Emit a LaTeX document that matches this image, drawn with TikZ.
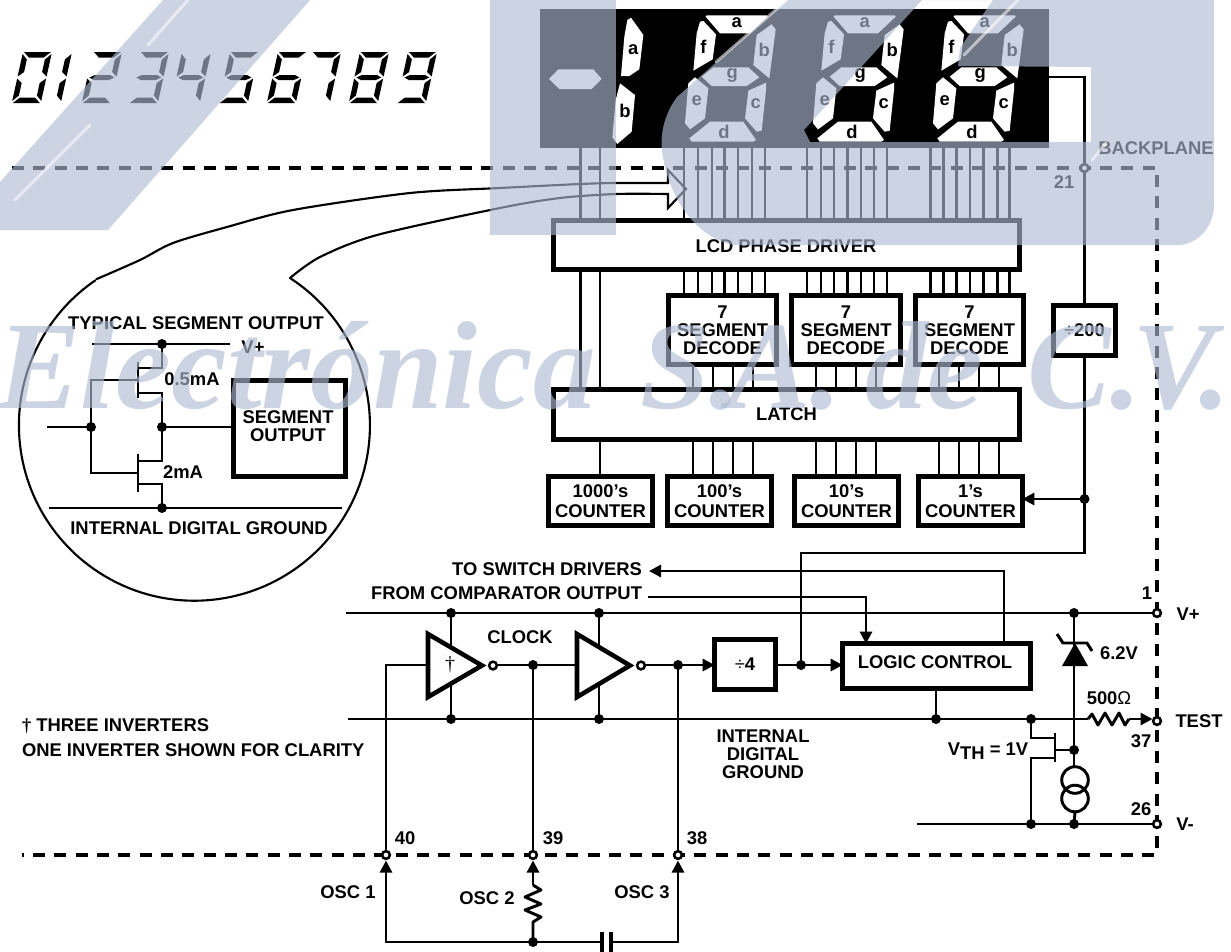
\documentclass[tikz,border=0pt]{standalone}
\usepackage{fontspec}
\setmainfont{Liberation Sans}
\newfontfamily\wmfont{Liberation Serif}
\usetikzlibrary{arrows.meta,calc}
\definecolor{wmblue}{RGB}{175,186,211}
\tikzset{
  wire/.style={line width=2.2pt},
  thinw/.style={line width=1.6pt,line cap=round},
  dashw/.style={line width=2.3pt,dash pattern=on 9pt off 7pt},
  arroww/.style={wire,-{Triangle[length=9pt,width=9pt]}},
  lbl/.style={font=\bfseries\fontsize{13.8}{13.5}\selectfont,align=center,inner sep=0pt,outer sep=0pt},
  blk/.style={draw,line width=4pt,fill=white,lbl,outer sep=0pt,inner sep=0pt},
  dot/.style={circle,fill=black,minimum size=7.5pt,inner sep=0pt,outer sep=0pt},
  pin/.style={circle,draw,fill=white,line width=1.9pt,minimum size=5.8pt,inner sep=0pt,outer sep=0pt},
  seglbl/.style={font=\bfseries\fontsize{13.8}{14}\selectfont,inner sep=0pt},
  wmark/.style={font=\wmfont\bfseries\itshape\fontsize{94}{94}\selectfont,text=wmblue,text opacity=.63,anchor=base west,inner sep=0pt}
}
\newcommand\pxbox[6]{%
  \pgfmathsetmacro\bw{(#4-#2-5.3)*.75}\pgfmathsetmacro\bh{(#5-#3-5.3)*.75}%
  \node[blk,minimum width=\bw pt,minimum height=\bh pt] (#1) at ({(#2+#4)/2},{(#3+#5)/2}) {#6};}
% small seven-segment digits
\newcommand\lcda{\fill (1,0)--(28,0)--(22,5.5)--(7,5.5)--cycle;}
\newcommand\lcdf{\fill (0,2)--(5.5,7.5)--(5.5,20)--(0,24.5)--cycle;}
\newcommand\lcdb{\fill (29,2)--(29,24.5)--(23.5,20)--(23.5,7.5)--cycle;}
\newcommand\lcdg{\fill (2,25.5)--(7,23)--(22,23)--(27,25.5)--(22,28)--(7,28)--cycle;}
\newcommand\lcde{\fill (0,26.5)--(5.5,31)--(5.5,43.5)--(0,49)--cycle;}
\newcommand\lcdc{\fill (29,26.5)--(29,49)--(23.5,43.5)--(23.5,31)--cycle;}
\newcommand\lcdd{\fill (7,45.5)--(22,45.5)--(28,51)--(1,51)--cycle;}
% one large display digit, in units of a third of a pixel
\newcommand\bigdigit[1]{%
\begin{scope}[shift={(520+#1,0)},x=0.25pt,y=-0.25pt,fill=white]
\fill (560,46)--(740,46)--(743,50)--(690,100)--(600,100)--(557,50)--cycle;
\fill (540,65)--(550,63)--(588,103)--(578,178)--(520,212)--(530,100)--cycle;
\fill (755,73)--(767,88)--(748,235)--(700,195)--(710,105)--cycle;
\fill (545,230)--(580,202)--(685,202)--(718,232)--(680,258)--(575,258)--cycle;
\fill (525,232)--(565,265)--(555,355)--(510,388)--(495,370)--(505,250)--cycle;
\fill (738,248)--(738,270)--(725,392)--(710,395)--(675,355)--(685,272)--cycle;
\fill (570,365)--(670,365)--(708,420)--(700,425)--(515,425)--(508,415)--cycle;
\node[seglbl] (a#1) at (650,68) {a};
\node[seglbl] (f#1) at (550,140) {f};
\node[seglbl] (b#1) at (733,150) {b};
\node[seglbl] (g#1) at (637,225) {g};
\node[seglbl] (e#1) at (530,303) {e};
\node[seglbl] (c#1) at (707,312) {c};
\node[seglbl] (d#1) at (612,397) {d};
\end{scope}}
\begin{document}
\begin{tikzpicture}[x=0.75pt,y=-0.75pt]
\useasboundingbox (0,0) rectangle (1231,951);
\clip (0,0) rectangle (1231,951);
\fill[white] (0,0) rectangle (1231,951);

% digit legend
\foreach \x/\segs in {23/{a,b,c,d,e,f},43/{b,c},93/{a,b,g,e,d},140/{a,b,g,c,d},182/{f,g,b,c},230/{a,f,g,c,d},278/{a,f,g,e,c,d},312/{a,b,c},360/{a,b,c,d,e,f,g},408/{a,f,b,g,c,d}}{
  \begin{scope}[shift={(\x,52)},xslant=0.22]
    \foreach \s in \segs {\csname lcd\s\endcsname}
  \end{scope}
}

% display
\node[fill=black,minimum width=509*.75pt,minimum height=139*.75pt,inner sep=0pt,outer sep=0pt] (disp) at (794.5,78.5) {};
\begin{scope}[shift={(520,0)},x=0.25pt,y=-0.25pt]
\fill[white] (87,237)--(115,208)--(220,208)--(245,237)--(215,267)--(118,267)--cycle;
\fill[white] (322,60)--(333,53)--(370,105)--(358,208)--(328,228)--(303,228)--(313,110)--cycle;
\fill[white] (300,250)--(345,285)--(335,395)--(292,432)--(277,412)--(287,300)--cycle;
\node[seglbl] (a0) at (340,150) {a};
\node[seglbl] (b0) at (315,333) {b};
\end{scope}
\bigdigit{0}
\bigdigit{128}
\bigdigit{248}

% main blocks
\pxbox{lcd}{551}{218}{1022}{272}{}
\node[lbl] (lcdt) at (786,246) {LCD PHASE DRIVER};
\pxbox{dec1}{666}{293}{779}{367}{7\\SEGMENT\\DECODE}
\pxbox{dec2}{789}{293}{903}{367}{7\\SEGMENT\\DECODE}
\pxbox{dec3}{913}{293}{1026}{367}{7\\SEGMENT\\DECODE}
\pxbox{latch}{551}{387}{1022}{442}{LATCH}
\pxbox{c1000}{546}{474}{655}{528}{1000’s\\[1.5pt]COUNTER}
\pxbox{c100}{665}{474}{774}{528}{100’s\\[1.5pt]COUNTER}
\pxbox{c10}{792}{474}{901}{528}{10’s\\[1.5pt]COUNTER}
\pxbox{c1}{916}{474}{1025}{528}{1’s\\[1.5pt]COUNTER}
\pxbox{div200}{1051}{303}{1118}{358}{{\mdseries ÷}200}
\pxbox{div4}{712}{637}{778}{692}{{\mdseries ÷}4}
\pxbox{logic}{840}{641}{1033}{691}{}
\node[lbl] (logict) at (935,662) {LOGIC CONTROL};

% display to phase driver, phase driver to decoders
\foreach \x in {580.5,600} \draw[wire] (\x,0 |- disp.south) -- (\x,0 |- lcd.north);
\foreach \x in {684,698,712,724.5,738,752,765}{
  \draw[wire] (\x,0 |- disp.south) -- (\x,0 |- lcd.north);
  \draw[wire] (\x,0 |- lcd.south) -- (\x,0 |- dec1.north);}
\foreach \x in {807,821,834,847.5,861,874,887}{
  \draw[wire] (\x,0 |- disp.south) -- (\x,0 |- lcd.north);
  \draw[wire] (\x,0 |- lcd.south) -- (\x,0 |- dec2.north);}
\foreach \x in {930.5,943.5,956.5,970,983.5,997.5,1009.5}{
  \draw[wire] (\x,0 |- disp.south) -- (\x,0 |- lcd.north);
  \draw[wire] (\x,0 |- lcd.south) -- (\x,0 |- dec3.north);}
\foreach \x in {580.5,600} \draw[wire] (\x,0 |- lcd.south) -- (\x,0 |- latch.north);
% decoders to latch, latch to counters
\foreach \x in {693,713,733,753}{
  \draw[wire] (\x,0 |- dec1.south) -- (\x,0 |- latch.north);
  \draw[wire] (\x,0 |- latch.south) -- (\x,0 |- c100.north);}
\foreach \x in {816,836,856,876}{
  \draw[wire] (\x,0 |- dec2.south) -- (\x,0 |- latch.north);
  \draw[wire] (\x,0 |- latch.south) -- (\x,0 |- c10.north);}
\foreach \x in {939,959,979,999}{
  \draw[wire] (\x,0 |- dec3.south) -- (\x,0 |- latch.north);
  \draw[wire] (\x,0 |- latch.south) -- (\x,0 |- c1.north);}
\draw[wire] (600,0 |- latch.south) -- (600,0 |- c1000.north);

% named points
\coordinate (bpc) at (1084.5,77);
\coordinate (p21c) at (1084.5,168);
\coordinate (pVpc) at (1157,613);
\coordinate (pTc) at (1157,721);
\coordinate (pVmc) at (1157,824);
\coordinate (p40c) at (386,855);
\coordinate (p39c) at (533,855);
\coordinate (p38c) at (678,855);
\coordinate (jc1) at (1084.5,499);
\coordinate (jbot) at (1084.5,553);
\coordinate (jleft) at (801,553);
\coordinate (jdiv) at (801,665);
\coordinate (jvp1) at (451,613);
\coordinate (jvp2) at (599,613);
\coordinate (jvp3) at (1074,613);
\coordinate (jg1) at (451,719);
\coordinate (jg2) at (599,719);
\coordinate (jg3) at (936,719);
\coordinate (jg4) at (1031,719);
\coordinate (jclk1) at (533,665);
\coordinate (jclk2) at (678,665);
\coordinate (jgate) at (1074,750);
\coordinate (jvm1) at (1031,824);
\coordinate (jvm2) at (1074,824);
\coordinate (jbotc) at (533,942);
\coordinate (vpl) at (346,613);
\coordinate (gl) at (348,719);
\coordinate (vml) at (917,824);

% dashed package outline
\draw[dashw] (12,168) -- (1157,168) -- (1157,855) -- (22,855);

% backplane and clock lines
\draw[wire] (disp.east |- bpc) -- (bpc) -- (p21c) -- (div200.north);
\draw[wire] (div200.south) -- (jbot) -- (jleft) -- (jdiv);
\draw[arroww] (jc1) -- (c1.east |- jc1);
\draw[arroww] (jdiv) -- (logic.west |- jdiv);
\draw[wire] (div4.east |- jdiv) -- (jdiv);

% switch driver and comparator lines
\node[lbl,anchor=east] (tosw) at (642,569) {TO SWITCH DRIVERS};
\node[lbl,anchor=east] (fromc) at (642,593) {FROM COMPARATOR OUTPUT};
\coordinate (tsw) at (1004,571);
\coordinate (fcmp) at (866,597);
\draw[arroww] (logic.north -| tsw) -- (tsw) -- (649,571);
\draw[arroww] (648,597) -- (fcmp) -- (logic.north -| fcmp);

% rails
\draw[wire] (vpl) -- (pVpc);
\draw[wire] (gl) -- (1088,719);
\draw[wire] (vml) -- (pVmc);
\draw[wire] (jvp1) -- (jg1);
\draw[wire] (jvp2) -- (jg2);
\draw[wire] (logic.south -| jg3) -- (jg3);

% oscillator
\draw[wire] (428,665) -- (386,665) -- (p40c);
\draw[wire] (497,665) -- (577,665);
\draw[wire] (jclk1) -- (p39c);
\draw[arroww] (645,665) -- (div4.west |- jclk2);
\draw[wire] (jclk2) -- (p38c);
\draw[wire,line join=round] (jbotc) -- (533,922) -- (541,917) -- (525,910) -- (541,904) -- (525,897) -- (541,890) -- (533,885);
\draw[arroww] (533,885) -- (533,860.5);
\draw[arroww] (602,942) -- (386,942) -- (386,860.5);
\draw[arroww] (610,942) -- (678,942) -- (678,860.5);
\draw[line width=2.4pt] (602,932) -- (602,956);
\draw[line width=2.4pt] (611,932) -- (611,956);

% inverters
\draw[line width=3.4pt,fill=white,miter limit=10] (428,634) -- (482,665.5) -- (428,697) -- cycle;
\draw[line width=3.4pt,fill=white,miter limit=10] (577,634) -- (630,665.5) -- (577,697) -- cycle;
\node[pin] (bub1) at (493,665.5) {};
\node[pin] (bub2) at (641,665.5) {};
\node[font=\fontsize{15}{15}\selectfont\wmfont,inner sep=0pt] (dag) at (450,665) {†};

% zener, mosfet, current source
\draw[wire] (jvp3) -- (jgate) -- (1074,767);
\fill (1075,643) -- (1062,666) -- (1088,666) -- cycle;
\draw[wire] (1057,634) -- (1063,643) -- (1087,643) -- (1092,651);
\draw[wire] (jg4) -- (1031,738) -- (1055,738);
\draw[wire] (1055,733) -- (1055,762);
\draw[wire] (jgate) -- (1055,750);
\draw[wire] (1055,758) -- (1031,758) -- (jvm1);
\draw[wire] (1075,780) circle[radius=13.3];
\draw[wire] (1075,798.5) circle[radius=13.3];
\draw[wire] (1075,812) -- (jvm2);
\draw[wire,line join=round] (1088,719) -- (1092,714) -- (1098,725) -- (1105,713) -- (1112,725) -- (1119,713) -- (1125,725) -- (1129,719);
\draw[arroww] (1129,719) -- (1152.5,719);

% magnifier
\draw[thinw] (290,278) arc[start angle=-57,end angle=235.6,radius=175.5];
\draw[thinw] plot[smooth] coordinates {(96.3,279.2) (140,260) (173,243) (227,227) (293,210) (410,193) (500,188) (580,184) (616,183) (668,183)} -- (668,170) -- (686,189) -- (668,208) -- (668,194) -- plot[smooth] coordinates {(668,194) (616,194) (560,198) (500,208) (377,235) (320,257) (290,278)};
\node[lbl] (typ) at (196,323) {TYPICAL SEGMENT OUTPUT};
\node[lbl] (idg) at (199,528) {INTERNAL DIGITAL GROUND};
\node[lbl] (mvp) at (253,347) {V+};
\pxbox{segbox}{231}{378}{348}{479}{}
\node[lbl] (segt) at (288,426) {SEGMENT\\OUTPUT};
\coordinate (mj1) at (162,344);
\coordinate (mj2) at (162,427);
\coordinate (mj3) at (162,508);
\coordinate (mj4) at (91,427);
\draw[wire] (92,344) -- (230,344);
\draw[wire] (49,508) -- (342,508);
\draw[wire] (mj1) -- (162,368) -- (138,368);
\draw[wire] (138,362) -- (138,398);
\draw[wire] (138,393) -- (162,393) -- (mj2) -- (162,461) -- (138,461);
\draw[wire] (138,454) -- (138,492);
\draw[wire] (138,484) -- (162,484) -- (mj3);
\draw[wire] (138,380) -- (91,380) -- (91,473) -- (138,473);
\draw[wire] (47,427) -- (mj4);
\draw[wire] (mj2) -- (segbox.west |- mj2);
\node[lbl] (ma1) at (192,379) {0.5mA};
\node[lbl] (ma2) at (183,472) {2mA};

% junction dots and pins
\foreach \c in {jc1,jdiv,jvp1,jvp2,jvp3,jg1,jg2,jg3,jg4,jclk1,jclk2,jgate,jvm1,jvm2,jbotc,mj1,mj2,mj3,mj4}
  \node[dot] (n\c) at (\c) {};
\foreach \c in {p21c,pVpc,pTc,pVmc,p40c,p39c,p38c}
  \node[pin] (n\c) at (\c) {};

% labels
\node[lbl] (bp) at (1156,148) {BACKPLANE};
\node[lbl] (t21) at (1064,182) {21};
\node[lbl] (clk) at (520,637) {CLOCK};
\node[lbl] (zv) at (1119,653) {6.2V};
\node[lbl] (r5) at (1109,698) {500{\mdseries Ω}};
\node[lbl] (tv) at (988,751) {V\raisebox{-3pt}{TH} = 1V};
\node[lbl] (tvp) at (1188,614) {V+};
\node[lbl] (ttest) at (1199,721) {TEST};
\node[lbl] (tvm) at (1185,824) {V-};
\node[lbl] (t1) at (1147,593) {1};
\node[lbl] (t37) at (1141,741) {37};
\node[lbl] (t26) at (1141,809) {26};
\node[lbl] (t40) at (405,838) {40};
\node[lbl] (t39) at (553,838) {39};
\node[lbl] (t38) at (697,838) {38};
\node[lbl] (o1) at (348,892) {OSC 1};
\node[lbl] (o2) at (487,898) {OSC 2};
\node[lbl] (o3) at (642,892) {OSC 3};
\node[lbl] (igd) at (763,754) {INTERNAL\\DIGITAL\\GROUND};
\node[lbl,anchor=west] (n3) at (22,726) {{\wmfont †} THREE INVERTERS};
\node[lbl,anchor=west] (n1) at (22,750) {ONE INVERTER SHOWN FOR CLARITY};

% watermark overlay
\begin{scope}[fill=wmblue,fill opacity=.63]
\fill (163,0) -- (310,0) -- (108,230) -- (0,230) -- (0,182) -- cycle;
\fill (490,0) rectangle (616,235);
\fill[even odd rule] (787,0) -- (677,97) .. controls (660,120) and (660,145) .. (663,157) .. controls (668,190) and (690,235) .. (733,245) -- (1180,245) .. controls (1200,243) and (1214,225) .. (1214,205) -- (1214,0) -- cycle
  (810,142) -- (804,130) -- (922,0) -- (993,0) -- (960,48) -- (958,66) -- (1091,67) -- (1091,142) -- cycle;
\end{scope}
\node[wmark] (wm1) at (-3,408) {Electrónica};
\node[wmark] (wm2) at (640,408) {S.};
\node[wmark] (wm3) at (727,408) {A.};
\node[wmark] (wm4) at (865,408) {de};
\node[wmark] (wm5) at (1027,408) {C.};
\node[wmark] (wm6) at (1132,408) {V.};
% sheen
\begin{scope}[draw=white,draw opacity=.55,line width=2.2pt,line cap=round]
\draw (188,0) -- (148,45);
\draw (90,125) -- (15,200);
\draw (787,0) -- (716,62);
\draw (1018,0) -- (964,55);
\draw (1106,143) -- (1092,160);
\end{scope}
\end{tikzpicture}
\end{document}
